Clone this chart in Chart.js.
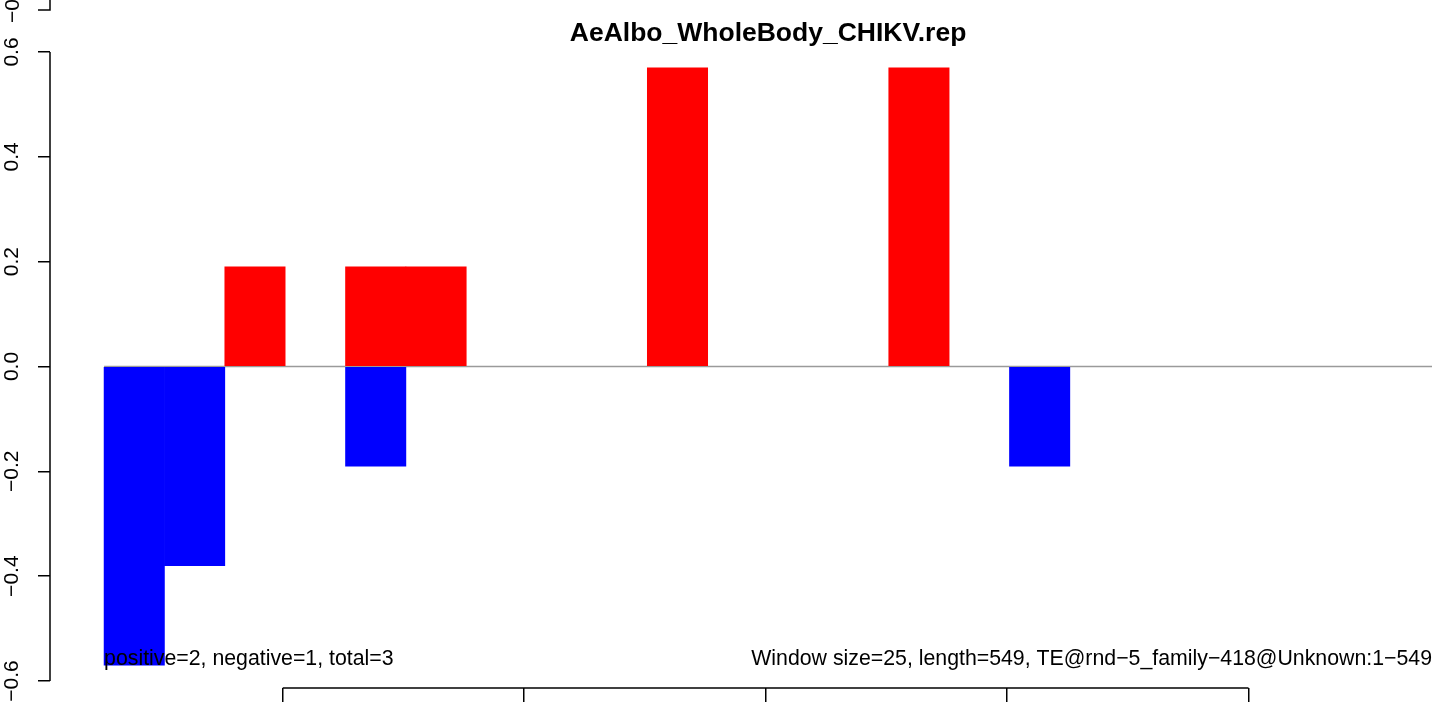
<!DOCTYPE html>
<html>
<head>
<meta charset="utf-8">
<script src="https://cdn.jsdelivr.net/npm/chart.js@4/dist/chart.umd.min.js"></script>
<style>
  html, body { margin: 0; padding: 0; background: #fff; }
  #wrap { width: 1444px; height: 708px; }
</style>
</head>
<body>
<div id="wrap"><canvas id="c" width="1444" height="708"></canvas></div>
<script>
// window start positions (bp), one bar slot per window of 25
const windowStarts = [26, 51, 76, 101, 126, 151, 176, 201, 226, 251, 276,
                      301, 326, 351, 376, 401, 426, 451, 476, 501, 526, 551];
const windowSize = 25;
const posValues = [0, 0, 0.19, 0, 0.19, 0.19, 0, 0, 0, 0.57, 0,
                   0, 0, 0.57, 0, 0, 0, 0, 0, 0, 0, 0];
const negValues = [-0.57, -0.38, 0, 0, -0.19, 0, 0, 0, 0, 0, 0,
                   0, 0, 0, 0, -0.19, 0, 0, 0, 0, 0, 0];
const yTicks = [-0.6, -0.4, -0.2, 0, 0.2, 0.4, 0.6];
const xTicks = [100, 200, 300, 400, 500];

const titleText = 'AeAlbo_WholeBody_CHIKV.rep';
const leftNote = 'positive=2, negative=1, total=3';
const rightNote = 'Window size=25, length=549, TE@rnd\u22125_family\u2212418@Unknown:1\u2212549';

const FONT = '"Liberation Sans", Arial, Helvetica, sans-serif';
Chart.defaults.font.family = FONT;
Chart.defaults.color = '#000';

function toPoints(vals) {
  return vals.map((v, i) => ({ x: windowStarts[i] + windowSize / 2, y: v === 0 ? null : v }));
}
const xEnd = windowStarts[windowStarts.length - 1] + windowSize;

function fmt(v) {
  const s = Math.abs(v).toFixed(1);
  return (v < -1e-9 ? '\u2212' : '') + s;
}

// R style axes lines, title and notes
const decor = {
  id: 'decor',
  afterDraw(chart) {
    const ctx = chart.ctx;
    const xs = chart.scales.x, ys = chart.scales.y;
    const ca = chart.chartArea;
    ctx.save();
    ctx.strokeStyle = '#000';
    ctx.lineWidth = 1.5;
    // y axis line between first and last tick
    ctx.beginPath();
    ctx.moveTo(ca.left, ys.getPixelForValue(yTicks[0]));
    ctx.lineTo(ca.left, ys.getPixelForValue(yTicks[yTicks.length - 1]));
    ctx.stroke();
    // x axis line between first and last tick
    ctx.beginPath();
    ctx.moveTo(xs.getPixelForValue(xTicks[0]), ca.bottom);
    ctx.lineTo(xs.getPixelForValue(xTicks[xTicks.length - 1]), ca.bottom);
    ctx.stroke();
    // leftover axis piece from a previous panel at the top edge
    ctx.beginPath();
    ctx.moveTo(ca.left, 0);
    ctx.lineTo(ca.left, 10);
    ctx.lineTo(ca.left - 12, 10);
    ctx.stroke();
    ctx.fillStyle = '#000';
    ctx.save();
    ctx.translate(13, 23);
    ctx.rotate(-Math.PI / 2);
    ctx.font = '21px ' + FONT;
    ctx.textAlign = 'left';
    ctx.textBaseline = 'middle';
    ctx.fillText('\u22120.8', 0, 0);
    ctx.restore();
    // title centred on the plotting region
    const plotLeft = xs.getPixelForValue(windowStarts[0]);
    const plotRight = xs.getPixelForValue(xEnd);
    ctx.font = 'bold 26.5px ' + FONT;
    ctx.textAlign = 'center';
    ctx.textBaseline = 'alphabetic';
    ctx.fillText(titleText, (plotLeft + plotRight) / 2, 41);
    // notes
    ctx.font = '21.3px ' + FONT;
    ctx.textAlign = 'left';
    ctx.fillText(leftNote, plotLeft, 665);
    ctx.textAlign = 'right';
    ctx.fillText(rightNote, plotRight, 665);
    ctx.restore();
  }
};

new Chart(document.getElementById('c'), {
  type: 'bar',
  data: {
    datasets: [
      { label: 'positive', data: toPoints(posValues), backgroundColor: '#ff0000',
        borderWidth: 0, barPercentage: 1, categoryPercentage: 1, order: 1 },
      { label: 'negative', data: toPoints(negValues), backgroundColor: '#0000ff',
        borderWidth: 0, barPercentage: 1, categoryPercentage: 1, order: 1 },
      { type: 'line', label: 'zero', data: [{ x: windowStarts[0], y: 0 }, { x: xEnd, y: 0 }],
        borderColor: '#9a9a9a', borderWidth: 1.5, pointRadius: 0, order: 2 }
    ]
  },
  options: {
    responsive: false,
    animation: false,
    devicePixelRatio: 1,
    layout: { padding: { top: 52, right: 12, bottom: 0, left: 0 } },
    plugins: { legend: { display: false }, tooltip: { enabled: false }, title: { display: false } },
    scales: {
      x: {
        type: 'linear',
        stacked: true,
        offset: false,
        min: 3.6,
        max: xEnd,
        afterBuildTicks: s => { s.ticks = xTicks.map(v => ({ value: v })); },
        afterFit: s => { s.height = 20; },
        border: { display: false },
        grid: { offset: false, drawOnChartArea: false, drawTicks: true, tickLength: 14, color: '#000', lineWidth: 1.5 },
        ticks: { display: false }
      },
      y: {
        stacked: true,
        min: -0.6134,
        max: 0.6,
        afterBuildTicks: s => { s.ticks = yTicks.map(v => ({ value: v })); },
        afterFit: s => { s.width = 50; },
        border: { display: false },
        grid: { drawOnChartArea: false, drawTicks: true, tickLength: 12, color: '#000', lineWidth: 1.5 },
        ticks: {
          autoSkip: false,
          minRotation: 90,
          maxRotation: 90,
          crossAlign: 'center',
          padding: 5,
          color: '#000',
          font: { size: 21 },
          callback: v => fmt(v)
        }
      }
    }
  },
  plugins: [decor]
});
</script>
</body>
</html>
